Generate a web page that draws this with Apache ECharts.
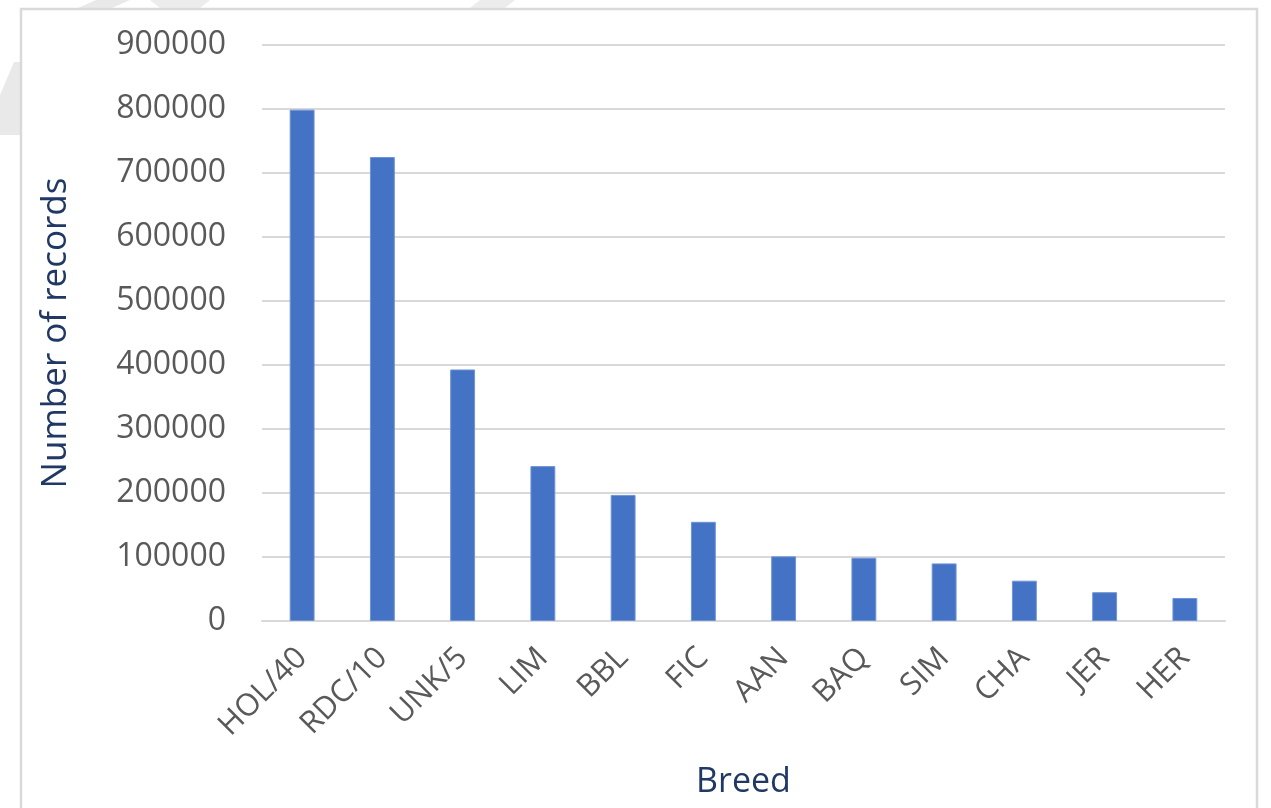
<!DOCTYPE html>
<html>
<head>
<meta charset="utf-8">
<title>Number of records by breed</title>
<script src="https://cdn.jsdelivr.net/npm/echarts@6/dist/echarts.min.js"></script>
<style>
  html, body { margin: 0; padding: 0; background: #fff; }
  #chart { width: 1271px; height: 808px; }
</style>
</head>
<body>
<div id="chart"></div>
<script>
// breeds on the x axis
const breeds = ['HOL/40', 'RDC/10', 'UNK/5', 'LIM', 'BBL', 'FIC', 'AAN', 'BAQ', 'SIM', 'CHA', 'JER', 'HER']
// number of records per breed
const records = [799000, 725000, 393000, 242000, 197000, 155000, 101000, 99000, 90000, 63000, 45000, 36000]
// y axis range
const yMin = 0
const yMax = 900000
const yStep = 100000

const chart = echarts.init(document.getElementById('chart'))

const option = {
  backgroundColor: '#ffffff',
  animation: false,
  textStyle: { fontFamily: '"Open Sans", "Noto Sans", sans-serif' },
  graphic: [
    // faint watermark strokes behind the frame
    {
      type: 'polygon',
      silent: true,
      shape: { points: [[0, 135], [0, 95], [14, 62], [22, 62], [22, 135]] },
      style: { fill: '#e9e9e9' }
    },
    {
      type: 'polygon',
      silent: true,
      shape: { points: [[78, 8], [96, 0], [130, 0], [112, 8]] },
      style: { fill: '#e9e9e9' }
    },
    {
      type: 'polygon',
      silent: true,
      shape: { points: [[150, 0], [210, 0], [200, 8], [160, 8]] },
      style: { fill: '#ececec' }
    },
    {
      type: 'polygon',
      silent: true,
      shape: { points: [[470, 8], [480, 0], [515, 0], [505, 8]] },
      style: { fill: '#ececec' }
    },
    // chart frame
    {
      type: 'rect',
      silent: true,
      shape: { x: 21, y: 9, width: 1236, height: 820 },
      style: { fill: 'none', stroke: '#d9d9d9', lineWidth: 2.5 }
    }
  ],
  grid: {
    left: 262,
    right: 46,
    top: 45,
    bottom: 187
  },
  xAxis: {
    type: 'category',
    data: breeds,
    name: 'Breed',
    nameLocation: 'middle',
    nameGap: 144,
    nameTextStyle: { color: '#1f3864', fontSize: 34 },
    axisLine: { show: true, lineStyle: { color: '#d9d9d9', width: 2 } },
    axisTick: { show: false },
    axisLabel: {
      color: '#595959',
      fontSize: 31,
      rotate: 45,
      margin: 32,
      interval: 0
    }
  },
  yAxis: {
    type: 'value',
    min: yMin,
    max: yMax,
    interval: yStep,
    name: 'Number of records',
    nameLocation: 'middle',
    nameGap: 188,
    nameTextStyle: { color: '#1f3864', fontSize: 35 },
    axisLine: { show: false },
    axisTick: { show: false },
    axisLabel: {
      color: '#595959',
      fontSize: 32,
      margin: 36,
      formatter: (v) => String(v)
    },
    splitLine: { lineStyle: { color: '#d9d9d9', width: 2 } }
  },
  series: [
    {
      type: 'bar',
      data: records,
      barWidth: '31%',
      itemStyle: { color: '#4472c4', borderColor: '#6f94d6', borderWidth: 1 }
    }
  ]
}

chart.setOption(option)
</script>
</body>
</html>
